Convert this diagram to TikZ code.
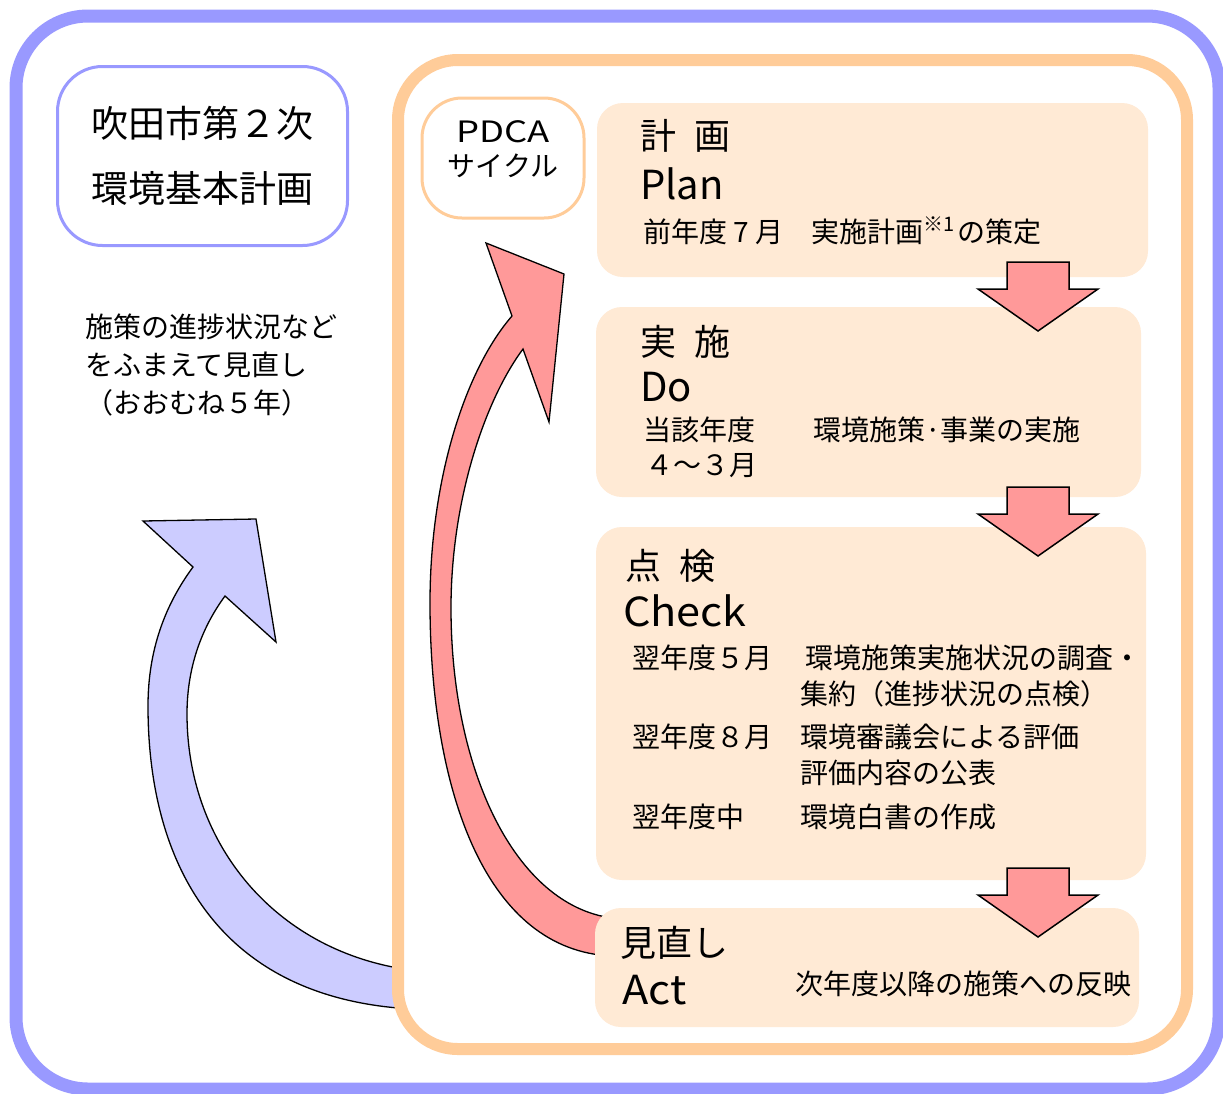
\documentclass[tikz,border=0pt]{standalone}
\usepackage{fontspec}
\setmainfont{Noto Sans CJK JP}
\definecolor{bluefr}{HTML}{9999FF}
\definecolor{bluefill}{HTML}{CCCCFF}
\definecolor{orangefr}{HTML}{FFCC99}
\definecolor{boxfill}{HTML}{FFEAD5}
\definecolor{pinkfill}{HTML}{FF9999}
\begin{document}
\begin{tikzpicture}[x=1pt,y=-1pt,
  stagebox/.style={fill=boxfill, draw=none, rounded corners=26pt, inner sep=0pt},
  txt/.style={inner sep=0pt, anchor=west, font=\fontsize{28}{30}\selectfont},
  headtxt/.style={inner sep=0pt, anchor=west, font=\fontsize{36}{40}\selectfont},
  latintxt/.style={inner sep=0pt, anchor=west, font=\fontsize{40}{44}\selectfont},
  downarrow/.style={fill=pinkfill, draw=black, line width=1.5pt, line join=miter},
  curvedarrow/.style={draw=black, line width=1.3pt, line join=miter},
]
\useasboundingbox (0,0) rectangle (1223,1093);
\fill[white] (0,0) rectangle (1223,1093);
% outer blue frame
\draw[bluefr, line width=13pt, rounded corners=72pt] (16,16) rectangle (1219,1089);
% blue curved arrow (tail under orange frame)
\filldraw[curvedarrow, fill=bluefill]
  (398,1008) .. controls (215,992) and (148,860) .. (148,706)
  .. controls (148,650) and (165,605) .. (193,567)
  -- (143,521) -- (256,519) -- (276,642) -- (225,596)
  .. controls (200,630) and (187,670) .. (187,714)
  .. controls (187,840) and (270,945) .. (398,968) -- cycle;
% orange frame
\draw[orangefr, line width=12pt, rounded corners=60pt] (398,60) rectangle (1187,1049);
% title box
\node[draw=bluefr, line width=3pt, rounded corners=45pt, minimum width=290pt, minimum height=179pt,
      align=center, font=\fontsize{37}{65}\selectfont] (title) at (202.5,156) {吹田市第２次\\環境基本計画};
% note
\node[txt] (note1) at (85,327) {施策の進捗状況など};
\node[txt] (note2) at (85,365) {をふまえて見直し};
\node[txt] (note3) at (85,403) {（おおむね５年）};
% PDCA box
\node[draw=orangefr, line width=3pt, rounded corners=40pt, minimum width=162pt, minimum height=120pt] (pdca) at (503,158) {};
\node[align=center, inner sep=0pt, font=\fontsize{28}{34}\selectfont] (pdcat) at (503,149)
  {\scalebox{1.3}[1.05]{PDCA}\\サイクル};
% pink curved arrow (tail under Act box)
\filldraw[curvedarrow, fill=pinkfill]
  (600,955) .. controls (480,940) and (430,780) .. (430,603)
  .. controls (430,480) and (465,370) .. (512,316)
  -- (486,243) -- (564,274) -- (549,422) -- (523,349)
  .. controls (485,400) and (451,500) .. (451,608)
  .. controls (451,770) and (515,905) .. (612,918) -- cycle;
% stage boxes
\node[stagebox, minimum width=551pt, minimum height=174pt] (plan) at (872.5,190) {};
\node[stagebox, minimum width=545pt, minimum height=190pt] (do) at (868.5,402) {};
\node[stagebox, minimum width=550pt, minimum height=353pt] (check) at (871,703.5) {};
\node[stagebox, minimum width=544pt, minimum height=119pt] (act) at (867,967.5) {};
% down arrows
\foreach \y in {262,487,868}{
  \filldraw[downarrow] (1007,\y) -- (1069,\y) -- (1069,\y+27) -- (1098,\y+27)
    -- (1038,\y+69) -- (978,\y+27) -- (1007,\y+27) -- cycle;
}
% Plan texts
\node[headtxt] (planj) at (640,136) {計\hspace{0.5em}画};
\node[latintxt] (plane) at (640,184) {Plan};
\node[txt] (plant) at (643,231) {前年度\makebox[1em]{7}月　実施計画\raisebox{0.4em}{\fontsize{20}{20}\selectfont ※1}\hspace{0.1em}の策定};
% Do texts
\node[headtxt] (doj) at (640,342) {実\hspace{0.5em}施};
\node[latintxt] (doe) at (640,387) {Do};
\node[txt] (dot1) at (643,430) {当該年度};
\node[txt] (dot2) at (813,430) {環境施策·事業の実施};
\node[txt] (dot3) at (645,466) {４～３月};
% Check texts
\node[headtxt] (checkj) at (625,566) {点\hspace{0.5em}検};
\node[latintxt] (checke) at (623,611) {\scalebox{1.08}[1]{Check}};
\node[txt] (ck1a) at (632,658) {翌年度５月};
\node[txt] (ck1b) at (805,658) {環境施策実施状況の調査・};
\node[txt] (ck2) at (800,694) {集約（進捗状況の点検）};
\node[txt] (ck3a) at (632,737) {翌年度８月};
\node[txt] (ck3b) at (800,737) {環境審議会による評価};
\node[txt] (ck4) at (800,773) {評価内容の公表};
\node[txt] (ck5a) at (632,817) {翌年度中};
\node[txt] (ck5b) at (800,817) {環境白書の作成};
% Act texts
\node[headtxt] (actj) at (620,943) {見直し};
\node[latintxt] (acte) at (622,990) {\scalebox{1.08}[1]{Act}};
\node[txt] (actt) at (795,984) {次年度以降の施策への反映};
\end{tikzpicture}
\end{document}
